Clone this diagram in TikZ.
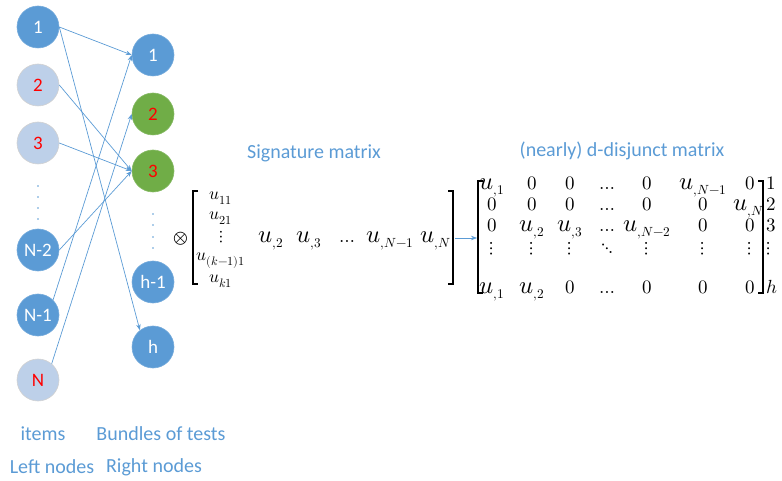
\documentclass[tikz,border=0pt]{standalone}
\usepackage{fontspec}
\usepackage{unicode-math}
\usepackage{graphicx}
\setmainfont{Carlito}
\setmathfont{Latin Modern Math}
\usetikzlibrary{positioning,arrows.meta}
\definecolor{dark}{RGB}{91,155,213}
\definecolor{pale}{RGB}{189,208,233}
\definecolor{hit}{RGB}{112,173,71}
\newcommand{\su}[1]{\mathord{\text{\scalebox{1.3}{$\symscr{u}$}}}_{,#1}}
\tikzset{
    base/.style={
        circle,
        minimum size=42pt,
        inner sep=0pt,
        line width=0.6pt,
        font=\fontsize{19}{22}\selectfont,
    },
    % Item or test in use
    D/.style={
        base,
        draw=dark!85!white,
        fill=dark,
        text=white,
    },
    % Item not in use
    P/.style={
        base,
        draw=black!18,
        fill=pale,
        text=red,
    },
    % Positive test
    G/.style={
        base,
        draw=hit!85!white,
        fill=hit,
        text=red,
    },
    link/.style={
        draw=dark,
        line width=0.7pt,
        -{Stealth[length=6pt,width=4.5pt]},
    },
    caption/.style={
        text=dark,
        font=\fontsize{20}{24}\selectfont,
    },
    gap/.style={
        circle,
        fill=dark,
        inner sep=0pt,
        minimum size=1.6pt,
    },
    entry/.style={
        inner sep=0pt,
        anchor=base,
        font=\fontsize{19}{22}\selectfont,
    },
    small/.style={
        inner sep=0pt,
        anchor=base,
        font=\fontsize{17.5}{21}\selectfont,
    },
    bracket/.style={
        draw=black,
        line width=1.1pt,
    },
}

\begin{document}
\begin{tikzpicture}[x=1pt,y=-1pt]
    \useasboundingbox (0,0) rectangle (782,481);

    % Left nodes
    \node[D] (L1) at (38,27) {1};
    \node[P] (L2) at (38,85) {2};
    \node[P] (L3) at (38,143) {3};
    \node[D] (LN2) at (38,250) {N-2};
    \node[D] (LN1) at (38,315) {N-1};
    \node[P] (LN) at (38,380) {N};
    \foreach \y [count=\i] in {186,197,208,219}
        \node[gap] (lgap\i) at (38,\y) {};

    % Right nodes
    \node[D] (R1) at (153,55) {1};
    \node[G] (R2) at (153,114) {2};
    \node[G] (R3) at (153,171) {3};
    \node[D] (Rh1) at (153,282) {h-1};
    \node[D] (Rh) at (153,347) {h};
    \foreach \y [count=\i] in {214,225,237,248}
        \node[gap] (rgap\i) at (153,\y) {};

    % Edges
    \draw[link] (L1.east) -- (R1.west);
    \draw[link] (L1.east) -- (Rh.128);
    \draw[link] (L2.east) -- (R3.west);
    \draw[link] (L3.east) -- (R3.west);
    \draw[link] (LN2.east) -- (R3.west);
    \draw[link] (LN1.north east) -- (R1.west);
    \draw[link] (LN.50) -- (R2.west);

    % Captions
    \node[caption] (items) at (43,434) {items};
    \node[caption] (bundles) at (161,434) {Bundles of tests};
    \node[caption] (leftcap) at (52,467) {Left nodes};
    \node[caption] (rightcap) at (154,467) {Right nodes};

    % Signature matrix
    \node[caption] (sigcap) at (314,153) {Signature matrix};
    \node[entry,anchor=center] (otimes) at (181,239) {$\otimes$};
    \draw[bracket] (198,191) -- (193,191) -- (193,284) -- (198,284);
    \draw[bracket] (448,191) -- (453,191) -- (453,284) -- (448,284);
    \foreach \e/\y [count=\i] in {u_{11}/200, u_{21}/220, \vdots/242, u_{(k-1)1}/261, u_{k1}/283}
        \node[small] (s\i) at (221,\y) {$\e$};
    \foreach \e/\x [count=\i from 2] in {\su{2}/271, \su{3}/309, \ldots/347, \su{N-1}/390, \su{N}/436}
        \node[entry] (m\i) at (\x,243) {$\e$};

    % Disjunct matrix
    \node[caption] (dmcap) at (622,151) {(nearly) d-disjunct matrix};
    \draw[bracket] (483,181) -- (478,181) -- (478,293) -- (483,293);
    \draw[bracket] (758,181) -- (763,181) -- (763,293) -- (758,293);
    \foreach \e/\x [count=\i] in {\su{1}/492, 0/532, 0/570, \ldots/607, 0/647, \su{N-1}/703, 0/750}
        \node[entry] (da\i) at (\x,190) {$\e$};
    \foreach \e/\x [count=\i] in {0/492, 0/532, 0/570, \ldots/607, 0/647, 0/703, \su{N}/749}
        \node[entry] (db\i) at (\x,211) {$\e$};
    \foreach \e/\x [count=\i] in {0/492, \su{2}/532, \su{3}/570, \ldots/607, \su{N-2}/647, 0/703, 0/750}
        \node[entry] (dc\i) at (\x,232) {$\e$};
    \foreach \e/\x [count=\i] in {\vdots/492, \vdots/532, \vdots/570, \ddots/607, \vdots/647, \vdots/703, \vdots/750}
        \node[entry] (dd\i) at (\x,254) {$\e$};
    \foreach \e/\x [count=\i] in {\su{1}/492, \su{2}/532, 0/570, \ldots/607, 0/647, 0/703, 0/750}
        \node[entry] (de\i) at (\x,294) {$\e$};
    \foreach \e/\y [count=\i] in {1/190, 2/211, 3/232, \vdots/254, h/294}
        \node[entry,anchor=base west] (row\i) at (766,\y) {$\e$};

    % Link between the matrices
    \coordinate (sigR) at (455,238);
    \coordinate (dmL) at (477,238);
    \draw[link] (sigR) -- (dmL);
\end{tikzpicture}
\end{document}
